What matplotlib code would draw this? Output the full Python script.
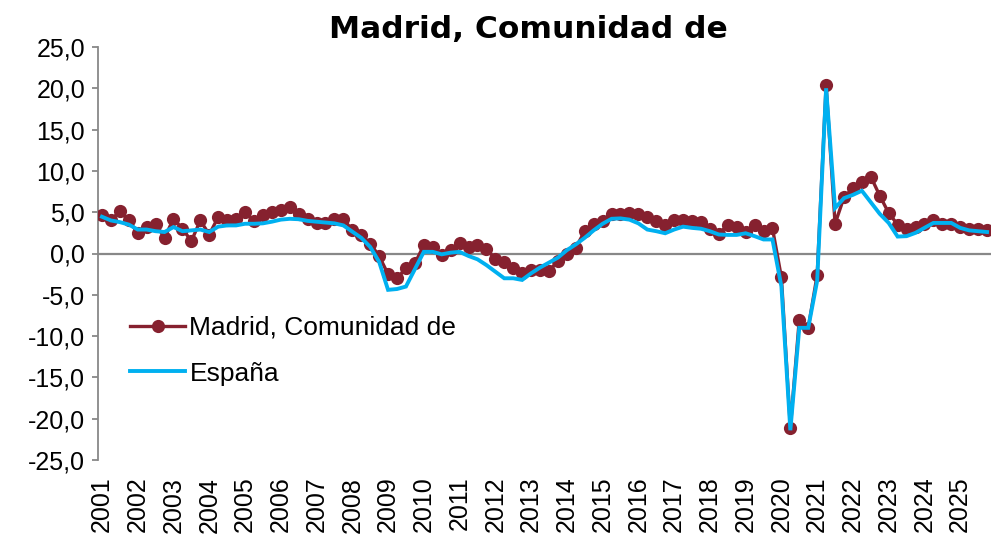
import numpy as np
import matplotlib
matplotlib.use("Agg")
import matplotlib.pyplot as plt
from matplotlib.ticker import FuncFormatter

years = [str(y) for y in range(2001, 2026)]

madrid = [4.7, 4.05, 5.1, 4.0, 2.5, 3.2, 3.6, 1.9, 4.2, 3.0, 1.5, 4.0, 2.3, 4.4, 4.0, 4.2,
          5.0, 3.9, 4.7, 5.0, 5.3, 5.6, 4.8, 4.2, 3.7, 3.7, 4.2, 4.2, 2.8, 2.2, 1.2, -0.3,
          -2.5, -3.0, -1.8, -1.2, 1.0, 0.8, -0.2, 0.4, 1.3, 0.8, 1.0, 0.6, -0.7, -1.0, -1.7, -2.4,
          -2.0, -2.0, -2.1, -0.9, -0.1, 0.7, 2.7, 3.6, 3.9, 4.8, 4.8, 4.9, 4.8, 4.4, 3.9, 3.5,
          4.0, 4.0, 3.9, 3.8, 3.0, 2.4, 3.45, 3.15, 2.65, 3.45, 2.75, 3.05,
          -2.9, -21.1, -8.0, -9.0, -2.6, 20.4, 3.6, 6.8, 7.9, 8.6, 9.3, 7.0,
          4.9, 3.5, 3.0, 3.2, 3.6, 4.0, 3.6, 3.6, 3.2, 3.0, 3.0, 2.8]

espana = [4.45, 4.0, 3.8, 3.5, 2.9, 2.9, 2.7, 2.6, 3.2, 2.7, 2.8, 2.9, 2.6, 3.25, 3.4, 3.4,
          3.6, 3.6, 3.65, 3.85, 4.1, 4.2, 4.15, 3.95, 3.85, 3.75, 3.65, 3.4, 2.65, 1.9, 0.8, -1.0,
          -4.4, -4.3, -4.0, -1.9, 0.2, 0.2, -0.1, 0.1, 0.2, -0.3, -0.7, -1.4, -2.2, -3.0, -3.0, -3.2,
          -2.4, -1.7, -1.1, -0.5, 0.4, 1.1, 1.9, 2.8, 3.6, 4.2, 4.25, 4.1, 3.65, 2.9, 2.7, 2.45,
          2.9, 3.25, 3.1, 3.0, 2.7, 2.3, 2.25, 2.25, 2.45, 2.1, 1.7, 1.7,
          -4.0, -21.4, -9.0, -9.0, -3.3, 20.0, 5.5, 6.7, 7.1, 7.6, 6.2, 4.8,
          3.7, 2.05, 2.1, 2.5, 3.1, 3.7, 3.7, 3.7, 3.1, 2.8, 2.7, 2.6]

y_ticks = np.arange(-25, 26, 5)

plt.rcParams['font.family'] = ['Liberation Sans', 'DejaVu Sans']

W, H = 991, 548
fig = plt.figure(figsize=(W / 100, H / 100), dpi=100)
ax = fig.add_axes([97.5 / W, (H - 460) / H, 894 / W, 413 / H])

x = np.arange(len(madrid))
ax.plot(x, madrid, color='#86212F', lw=2.4, marker='o', ms=9.5,
        markeredgewidth=0, label='Madrid, Comunidad de', zorder=3)
ax.plot(x, espana, color='#00B0F0', lw=2.8, label='España', zorder=4,
        solid_joinstyle='miter')

ax.axhline(0, color='#888888', lw=1.6, zorder=2)

ax.set_xlim(-0.5, len(madrid) - 0.5)
ax.set_ylim(-25, 25)
ax.set_yticks(y_ticks)
ax.yaxis.set_major_formatter(FuncFormatter(lambda v, p: f"{v:.1f}".replace('.', ',')))

q1 = np.arange(0, len(madrid), 4)
ax.set_xticks(q1)
ax.set_xticklabels(years, rotation=90, fontsize=18)
ax.tick_params(axis='x', length=0, pad=12)
ax.tick_params(axis='y', length=4, width=1.3, color='#888888', labelsize=18, pad=5)

for s in ['top', 'right', 'bottom']:
    ax.spines[s].set_visible(False)
ax.spines['left'].set_color('#888888')
ax.spines['left'].set_linewidth(1.3)

fig.text(528 / W, (H - 30) / H, 'Madrid, Comunidad de', ha='center', va='center',
         fontsize=22.5, fontweight='bold', family='DejaVu Sans')

ax.legend(loc='upper left', bbox_to_anchor=(130 / W, (H - 316) / H),
          bbox_transform=fig.transFigure, frameon=False, fontsize=19,
          handlelength=2.1, handletextpad=0.15, labelspacing=0.82,
          borderpad=0, borderaxespad=0)

fig.savefig('out.png', dpi=100)
